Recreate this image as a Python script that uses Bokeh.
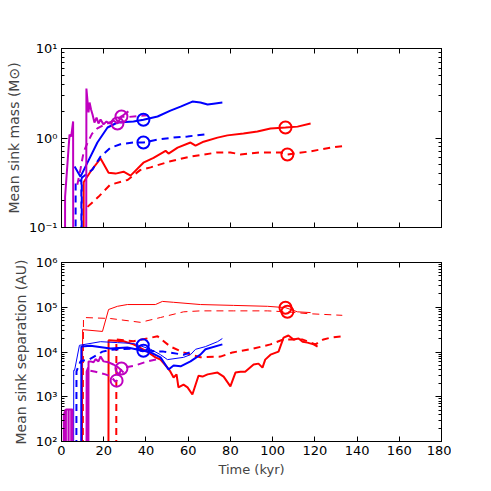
from bokeh.plotting import figure
from bokeh.layouts import column
from bokeh.models import FixedTicker, LinearAxis, LogAxis, CustomJSTickFormatter
from bokeh.embed import file_html
from bokeh.resources import INLINE

# ---------------- data: mean sink mass (Msun) vs time (kyr) ----------------
ZERO_M = 1e-3   # "no sink" values fall below the axis range
ZERO_S = 1.0

mag_m_solid_t = [1.6, 1.7, 3.8, 4.6, 5.5, 5.6, 11.6, 11.8, 12.8, 13.3, 14.0, 14.7, 15.6, 16.6,
                 17.5, 18.5, 19.9, 21.3, 22.7, 24.6, 26.5, 28.4, 30.3, 31.7]
mag_m_solid_v = [ZERO_M, 0.22, 1.09, 1.04, 1.53, ZERO_M, ZERO_M, 3.57, 1.93, 2.49, 2.08, 1.83, 1.49, 1.69,
                 1.45, 1.61, 1.42, 1.53, 1.45, 1.57, 1.45, 1.74, 1.88, 1.98]
mag_m_dash_t = [7.5, 9.0, 10.5, 12.5, 14.5, 17.0, 20.0, 23.0, 25.5, 28.4, 32.0, 36.0, 41.0]
mag_m_dash_v = [0.30, 0.45, 0.70, 0.90, 1.12, 1.28, 1.40, 1.50, 1.58, 1.74, 1.72, 1.76, 1.80]

blue_m_solid_t = [6.2, 9.0, 12.3, 17.0, 21.8, 26.5, 34.1, 38.8, 45.5, 51.6, 56.4, 62.0, 65.8, 69.2, 72.0, 76.2]
blue_m_solid_v = [0.48, 0.37, 0.53, 0.89, 1.31, 1.49, 1.53, 1.60, 1.74, 2.02, 2.24, 2.55, 2.49, 2.37, 2.42, 2.49]
blue_m_dash_t = [6.6, 6.7, 9.4, 9.5, 9.6, 14.7, 18.5, 23.2, 27.9, 34.1, 38.8, 45.5, 53.1, 59.7, 68.2]
blue_m_dash_v = [ZERO_M, 0.32, 0.34, ZERO_M, 0.36, 0.445, 0.62, 0.78, 0.85, 0.89, 0.89, 0.96, 1.01, 1.04, 1.10]

red_m_solid_t = [10.4, 10.5, 13.7, 18.5, 22.3, 25.6, 29.4, 32.7, 38.8, 43.6, 49.3, 50.7, 55.0, 61.1,
                 63.5, 67.3, 73.9, 78.6, 86.2, 92.8, 99.0, 106.1, 111.8, 118.0]
red_m_solid_v = [ZERO_M, 0.32, 0.42, 0.59, 0.41, 0.40, 0.42, 0.38, 0.53, 0.60, 0.72, 0.67, 0.78, 0.89,
                 0.82, 0.91, 1.01, 1.07, 1.12, 1.18, 1.28, 1.31, 1.34, 1.45]
red_m_dash_t = [12.3, 17.5, 23.0, 31.3, 37.4, 42.2, 51.6, 61.1, 73.9, 80.0, 84.8, 94.3, 103.7, 107.0, 118.0, 127.4, 133.1]
red_m_dash_v = [0.17, 0.22, 0.30, 0.34, 0.44, 0.47, 0.55, 0.62, 0.69, 0.69, 0.655, 0.69, 0.69, 0.655, 0.71, 0.78, 0.81]

mass_circ_t = {"m": [26.5, 28.4], "b": [38.8, 38.8], "r": [106.1, 107.0]}
mass_circ_v = {"m": [1.45, 1.74], "b": [1.60, 0.89], "r": [1.31, 0.655]}

# ---------------- data: mean sink separation (AU) vs time (kyr) ----------------
mag_s_solid_t = [1.0, 1.1, 2.0, 2.05, 2.1, 3.3, 3.35, 3.4, 4.6, 4.65, 4.7, 5.2, 5.25,
                 11.8, 11.9, 12.6, 12.7, 12.8, 13.7, 15.2, 16.1, 17.5, 18.5, 19.9, 22.3, 24.6, 27.0, 29.4]
mag_s_solid_v = [ZERO_S, 400, 520, ZERO_S, 520, 520, ZERO_S, 520, 520, ZERO_S, 520, 520, ZERO_S,
                 ZERO_S, 3630, 4470, ZERO_S, 6170, 6170, 5890, 6920, 6170, 7940, 6170, 5890, 5250, 4470, 3470]
mag_s_dash_t = [13.7, 16.1, 20.8, 23.5, 25.6, 26.1, 28.4, 30.5, 35.0, 40.7, 45.5]
mag_s_dash_v = [3800, 3630, 3160, 2820, 2140, 2290, 4270, 4570, 5010, 6170, 6920]

blue_s_thick_t = [9.3, 9.4, 13.7, 23.2, 31.2, 38.8, 42.2, 46.9, 50.7, 53.1, 56.4, 61.1, 65.8, 68.2, 76.2]
blue_s_thick_v = [ZERO_S, 13200, 13800, 12000, 12600, 10700, 9800, 7600, 4070, 5000, 4790, 6170, 8710, 11500, 14800]
blue_s_thin_t = [5.7, 5.8, 6.2, 8.5, 18.5, 26.5, 34.1, 42.2, 46.9, 50.2, 57.8, 61.1, 63.5, 68.2, 73.9, 76.2]
blue_s_thin_v = [ZERO_S, 3900, 3900, 14100, 17000, 16200, 15500, 11500, 8700, 6760, 7590, 8710, 11500, 13200, 17000, 20000]
blue_s_dash_t = [7.0, 7.1, 9.0, 13.3, 19.4, 23.2, 34.1, 45.5, 48.3, 57.8, 62.0]
blue_s_dash_v = [ZERO_S, 3700, 6200, 6900, 10200, 11200, 12000, 10200, 10200, 8700, 10200]

red_s_thick_t = [22.2, 22.3, 29.4, 34.1, 40.7, 44.5, 46.9, 50.2, 51.6, 53.1, 54.5, 55.4, 57.8, 59.7, 62.0,
                 63.5, 64.9, 66.8, 69.2, 73.9, 76.8, 80.0, 82.4, 84.8, 87.0, 91.0, 93.3, 95.2, 96.5, 99.0,
                 102.8, 105.2, 107.5, 109.9, 112.3, 114.2, 116.5, 119.4, 121.3]
red_s_thick_v = [ZERO_S, 18200, 17400, 14800, 10200, 7600, 6800, 4470, 3630, 2690, 3160, 1620, 1860, 1620, 1120,
                 1860, 2950, 2820, 3160, 3470, 2820, 1700, 3470, 3630, 3630, 5250, 5500, 4470, 6760, 8710,
                 10200, 20900, 23400, 19100, 20000, 17000, 16200, 14800, 13200]
red_s_dash_t = [25.9, 26.0, 34.1, 45.5, 51.6, 57.8, 65.8, 75.3, 81.0, 89.5, 99.0, 105.2, 114.0, 120.3, 124.1, 127.4, 133.0]
red_s_dash_v = [ZERO_S, 19100, 17400, 22400, 13200, 9800, 7600, 7900, 9800, 11500, 14800, 19100, 19100, 14800, 19100, 20900, 22400]
red_s_thin_t = [9.9, 10.0, 19.4, 22.3, 26.5, 31.2, 44.5, 47.8, 53.1, 65.8, 81.5, 97.6, 106.1, 111.8, 118.0]
red_s_thin_v = [ZERO_S, 31600, 28800, 89000, 105000, 115000, 115000, 135000, 129000, 115000, 110000, 105000, 98000, 79000, 76000]
red_s_thindash_t = [10.3, 10.4, 23.2, 37.4, 46.9, 57.8, 65.8, 81.5, 97.6, 107.0, 116.5, 133.0]
red_s_thindash_v = [ZERO_S, 59000, 56000, 46000, 59000, 79000, 83000, 83000, 83000, 79000, 72000, 66000]

sep_circ_t = {"m": [26.1, 28.4], "b": [38.5, 38.8], "r": [106.1, 107.0]}
sep_circ_v = {"m": [2290, 4270], "b": [14100, 10700], "r": [97700, 79400]}

x_ticks = [0, 20, 40, 60, 80, 100, 120, 140, 160, 180]
mass_ticks = [0.1, 1, 10]
sep_ticks = [1e2, 1e3, 1e4, 1e5, 1e6]

RED, BLUE, MAG = "#ff0000", "#0000ff", "#bf00bf"
FONT = "DejaVu Sans"

sup_fmt = CustomJSTickFormatter(code="""
const s = {'-':'\u207b','0':'\u2070','1':'\u00b9','2':'\u00b2','3':'\u00b3','4':'\u2074','5':'\u2075','6':'\u2076','7':'\u2077','8':'\u2078','9':'\u2079'};
const e = Math.round(Math.log10(tick));
return '10' + String(e).split('').map(c => s[c]).join('');
""")


def minor_of(decades):
    out = []
    for d in decades[:-1]:
        out += [d * k for k in range(2, 10)]
    return out


def blank():
    return CustomJSTickFormatter(code="return '';")


def style(p, yticks, show_x_labels, ylabel, xlabel=None):
    xt = FixedTicker(ticks=x_ticks, minor_ticks=[])
    yt = FixedTicker(ticks=yticks, minor_ticks=minor_of(yticks))
    p.add_layout(LinearAxis(ticker=xt), "above")
    p.add_layout(LogAxis(ticker=yt), "right")
    for ax in p.xaxis:
        ax.ticker = xt
        ax.major_tick_in = 5
        ax.major_tick_out = 0
        ax.minor_tick_in = 0
        ax.minor_tick_out = 0
        ax.axis_line_color = "black"
        ax.major_tick_line_color = "black"
        ax.major_label_text_font = FONT
        ax.major_label_text_font_size = "13px"
        ax.major_label_text_color = "black"
        ax.major_label_standoff = 4
    for ax in p.yaxis:
        ax.ticker = yt
        ax.formatter = sup_fmt
        ax.major_tick_in = 6
        ax.major_tick_out = 0
        ax.minor_tick_in = 3
        ax.minor_tick_out = 0
        ax.axis_line_color = "black"
        ax.major_tick_line_color = "black"
        ax.minor_tick_line_color = "black"
        ax.major_label_text_font = FONT
        ax.major_label_text_font_size = "13px"
        ax.major_label_text_color = "black"
        ax.major_label_standoff = 4
    # no labels on the mirrored axes
    for ax in (p.above[0], p.right[0]):
        ax.formatter = blank()
        ax.major_label_standoff = 0
    bx = p.below[0]
    if not show_x_labels:
        bx.formatter = blank()
        bx.major_label_standoff = 0
    else:
        bx.axis_label = xlabel
        bx.axis_label_text_font = FONT
        bx.axis_label_text_font_size = "13px"
        bx.axis_label_text_font_style = "normal"
        bx.axis_label_standoff = 4
    ly = p.left[0]
    ly.axis_label = ylabel
    ly.axis_label_text_font = FONT
    ly.axis_label_text_font_size = "14px"
    ly.axis_label_text_font_style = "normal"
    ly.axis_label_standoff = 4
    p.grid.visible = False
    p.outline_line_color = "black"
    p.outline_line_width = 1
    p.background_fill_color = "white"
    p.border_fill_color = "white"


top = figure(frame_width=380, frame_height=179, x_range=(0, 180), y_range=(0.1, 10),
             y_axis_type="log", output_backend="svg", toolbar_location=None,
             min_border_left=61, min_border_top=48, min_border_right=10, min_border_bottom=10)
style(top, mass_ticks, False, "Mean sink mass (M\u2299)")

top.line(red_m_dash_t, red_m_dash_v, color=RED, line_width=2, line_dash="7 5")
top.line(red_m_solid_t, red_m_solid_v, color=RED, line_width=2)
top.line(blue_m_dash_t, blue_m_dash_v, color=BLUE, line_width=2, line_dash="7 5")
top.line(blue_m_solid_t, blue_m_solid_v, color=BLUE, line_width=2)
top.line(mag_m_dash_t, mag_m_dash_v, color=MAG, line_width=2, line_dash="7 5")
top.line(mag_m_solid_t, mag_m_solid_v, color=MAG, line_width=2)
for key, col in (("r", RED), ("b", BLUE), ("m", MAG)):
    top.scatter(mass_circ_t[key], mass_circ_v[key], marker="circle", size=12,
                fill_color=None, line_color=col, line_width=2)

bot = figure(frame_width=380, frame_height=179, x_range=(0, 180), y_range=(1e2, 1e6),
             y_axis_type="log", output_backend="svg", toolbar_location=None,
             min_border_left=61, min_border_top=25, min_border_right=10, min_border_bottom=40)
style(bot, sep_ticks, True, "Mean sink separation (AU)", "Time (kyr)")

bot.line(red_s_thin_t, red_s_thin_v, color=RED, line_width=1)
bot.line(red_s_thindash_t, red_s_thindash_v, color=RED, line_width=1, line_dash="7 5")
bot.line(red_s_dash_t, red_s_dash_v, color=RED, line_width=2, line_dash="7 5")
bot.line(red_s_thick_t, red_s_thick_v, color=RED, line_width=2)
bot.line(blue_s_thin_t, blue_s_thin_v, color=BLUE, line_width=1)
bot.line(blue_s_dash_t, blue_s_dash_v, color=BLUE, line_width=2, line_dash="7 5")
bot.line(blue_s_thick_t, blue_s_thick_v, color=BLUE, line_width=2)
bot.line(mag_s_dash_t, mag_s_dash_v, color=MAG, line_width=2, line_dash="7 5")
bot.line(mag_s_solid_t, mag_s_solid_v, color=MAG, line_width=2)
for key, col in (("r", RED), ("b", BLUE), ("m", MAG)):
    bot.scatter(sep_circ_t[key], sep_circ_v[key], marker="circle", size=12,
                fill_color=None, line_color=col, line_width=2)

layout = column(top, bot, spacing=0)
open("out.html", "w").write(file_html(layout, INLINE))
